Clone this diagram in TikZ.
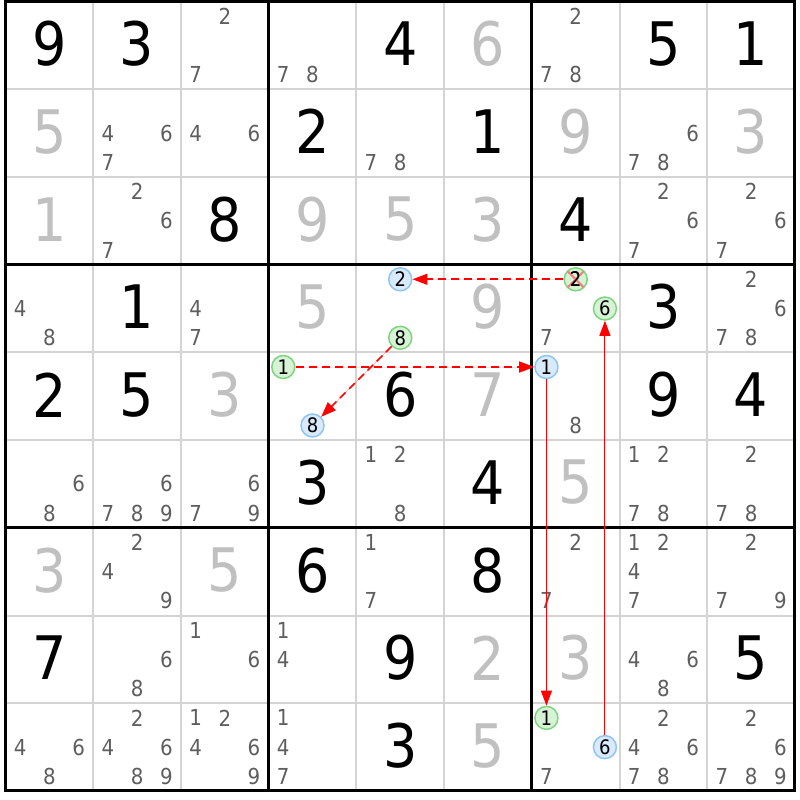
\documentclass[tikz,border=0pt]{standalone}
\usepackage{fontspec}
\setmainfont{DejaVu Sans Condensed}
\usetikzlibrary{arrows.meta}
\definecolor{thingray}{HTML}{D4D4D4}
\definecolor{solgray}{HTML}{C0C0C0}
\definecolor{candgray}{HTML}{5E5E5E}
\definecolor{greenF}{HTML}{D6F3D6}
\definecolor{greenB}{HTML}{80D480}
\definecolor{blueF}{HTML}{D8EAFC}
\definecolor{blueB}{HTML}{90C4F4}
\definecolor{xpink}{HTML}{F08080}
\definecolor{chainred}{HTML}{FF0000}
\newcommand{\CW}{87.72}
\newcommand{\GX}{5.5}
\newcommand{\GY}{1.5}
\newcommand{\bigd}[4]{\node[#1] (v#2#3) at ({\GX+(#3-0.5)*\CW},{\GY+(#2-0.5)*\CW}) {#4};}
\newcommand{\candpos}[3]{%
  \pgfmathtruncatemacro\ci{mod(#3-1,3)}%
  \pgfmathtruncatemacro\ri{floor((#3-1)/3)}%
  \coordinate (p#1#2#3) at ({\GX+(#2-1)*\CW+(2*\ci+1)*\CW/6},{\GY+(#1-1)*\CW+(2*\ri+1)*\CW/6});}
\newcommand{\cands}[3]{%
  \foreach \d in {#3}{%
    \candpos{#1}{#2}{\d}%
    \node[cand] (k#1#2\d) at (p#1#2\d) {\d};}}
\newcommand{\circd}[5]{%
  \candpos{#3}{#4}{#5}%
  \node[#1] (#2) at (p#3#4#5) {#5};}
\tikzset{
  given/.style={font=\fontsize{60}{60}\selectfont, text=black, inner sep=0pt, yshift=1.5pt},
  solved/.style={font=\fontsize{60}{60}\selectfont, text=solgray, inner sep=0pt, yshift=1.5pt},
  cand/.style={font=\fontsize{22}{22}\selectfont, text=candgray, inner sep=0pt},
  circtext/.style={font=\fontsize{20}{20}\selectfont, inner sep=0pt},
  gcirc/.style={circle, draw=greenB, fill=greenF, text=black, line width=1.5pt, minimum size=23pt, inner sep=0pt, circtext},
  bcirc/.style={circle, draw=blueB, fill=blueF, text=black, line width=1.5pt, minimum size=23pt, inner sep=0pt, circtext},
  xline/.style={draw=xpink, line width=2pt},
  thin/.style={draw=thingray, line width=2pt},
  thick/.style={draw=black, line width=3pt},
  chaindash/.style={draw=chainred, fill=chainred, line width=1.6pt, dash pattern=on 8pt off 5pt, -{Triangle[length=15pt,width=11pt]}},
  chainsolid/.style={draw=chainred, fill=chainred, line width=1pt, -{Triangle[length=15pt,width=11pt]}},
}
\begin{document}
\begin{tikzpicture}[x=1pt,y=-1pt]
\useasboundingbox (0,0) rectangle (800,800);
\fill[white] (0,0) rectangle (800,800);
% thin lines
\foreach \i in {1,2,4,5,7,8}{
  \draw[thin] ({\GX+\i*\CW},\GY) -- ({\GX+\i*\CW},{\GY+9*\CW});
  \draw[thin] (\GX,{\GY+\i*\CW}) -- ({\GX+9*\CW},{\GY+\i*\CW});
}
\foreach \i in {0,3,6,9}{
  \draw[thick] ({\GX+\i*\CW},\GY-1.5) -- ({\GX+\i*\CW},{\GY+9*\CW+1.5});
  \draw[thick] (\GX-1.5,{\GY+\i*\CW}) -- ({\GX+9*\CW+1.5},{\GY+\i*\CW});
}
% givens
\bigd{given}{1}{1}{9}\bigd{given}{1}{2}{3}\bigd{given}{1}{5}{4}\bigd{given}{1}{8}{5}\bigd{given}{1}{9}{1}
\bigd{given}{2}{4}{2}\bigd{given}{2}{6}{1}
\bigd{given}{3}{3}{8}\bigd{given}{3}{7}{4}
\bigd{given}{4}{2}{1}\bigd{given}{4}{8}{3}
\bigd{given}{5}{1}{2}\bigd{given}{5}{2}{5}\bigd{given}{5}{5}{6}\bigd{given}{5}{8}{9}\bigd{given}{5}{9}{4}
\bigd{given}{6}{4}{3}\bigd{given}{6}{6}{4}
\bigd{given}{7}{4}{6}\bigd{given}{7}{6}{8}
\bigd{given}{8}{1}{7}\bigd{given}{8}{5}{9}\bigd{given}{8}{9}{5}
\bigd{given}{9}{5}{3}
% solved
\bigd{solved}{1}{6}{6}
\bigd{solved}{2}{1}{5}\bigd{solved}{2}{7}{9}\bigd{solved}{2}{9}{3}
\bigd{solved}{3}{1}{1}\bigd{solved}{3}{4}{9}\bigd{solved}{3}{5}{5}\bigd{solved}{3}{6}{3}
\bigd{solved}{4}{4}{5}\bigd{solved}{4}{6}{9}
\bigd{solved}{5}{3}{3}\bigd{solved}{5}{6}{7}
\bigd{solved}{6}{7}{5}
\bigd{solved}{7}{1}{3}\bigd{solved}{7}{3}{5}
\bigd{solved}{8}{6}{2}\bigd{solved}{8}{7}{3}
\bigd{solved}{9}{6}{5}
% candidates
\cands{1}{3}{2,7}\cands{1}{4}{7,8}\cands{1}{7}{2,7,8}
\cands{2}{2}{4,6,7}\cands{2}{3}{4,6}\cands{2}{5}{7,8}\cands{2}{8}{6,7,8}
\cands{3}{2}{2,6,7}\cands{3}{8}{2,6,7}\cands{3}{9}{2,6,7}
\cands{4}{1}{4,8}\cands{4}{3}{4,7}\cands{4}{7}{7}\cands{4}{9}{2,6,7,8}
\cands{5}{7}{8}
\cands{6}{1}{6,8}\cands{6}{2}{6,7,8,9}\cands{6}{3}{6,7,9}\cands{6}{5}{1,2,8}\cands{6}{8}{1,2,7,8}\cands{6}{9}{2,7,8}
\cands{7}{2}{2,4,9}\cands{7}{5}{1,7}\cands{7}{7}{2,7}\cands{7}{8}{1,2,4,7}\cands{7}{9}{2,7,9}
\cands{8}{2}{6,8}\cands{8}{3}{1,6}\cands{8}{4}{1,4}\cands{8}{8}{4,6,8}
\cands{9}{1}{4,6,8}\cands{9}{2}{2,4,6,8,9}\cands{9}{3}{1,2,4,6,9}\cands{9}{4}{1,4,7}\cands{9}{7}{7}\cands{9}{8}{2,4,6,7,8}\cands{9}{9}{2,6,7,8,9}
% circled candidates
\circd{gcirc}{A}{4}{7}{2}
\circd{bcirc}{B}{4}{5}{2}
\circd{gcirc}{C}{4}{5}{8}
\circd{bcirc}{D}{5}{4}{8}
\circd{gcirc}{E}{5}{4}{1}
\circd{bcirc}{F}{5}{7}{1}
\circd{gcirc}{G}{9}{7}{1}
\circd{bcirc}{H}{9}{7}{6}
\circd{gcirc}{I}{4}{7}{6}
% cross-out on A
\draw[xline] ([shift={(-8,-8)}]A.center) -- ([shift={(8,8)}]A.center);
\draw[xline] ([shift={(-8,8)}]A.center) -- ([shift={(8,-8)}]A.center);
\node[circtext, text=black] (Atext) at (A.center) {2};
% chain
\begin{scope}[color=chainred]
\draw[chaindash] (A) -- (B);
\draw[chaindash] (C) -- (D);
\draw[chaindash] (E) -- (F);
\draw[chainsolid] (F) -- (G);
\draw[chainsolid] (H) -- (I);
\end{scope}
\end{tikzpicture}
\end{document}
